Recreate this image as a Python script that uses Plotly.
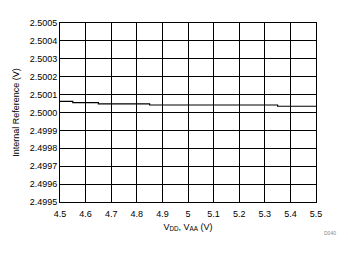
import plotly.graph_objects as go

vdd = [4.5, 4.55, 4.65, 4.85, 5.35, 5.5]
vref = [2.500062, 2.500055, 2.500048, 2.500042, 2.500035, 2.500035]

x_ticks = [4.5, 4.6, 4.7, 4.8, 4.9, 5.0, 5.1, 5.2, 5.3, 5.4, 5.5]
x_labels = ["4.5", "4.6", "4.7", "4.8", "4.9", "5", "5.1", "5.2", "5.3", "5.4", "5.5"]
y_ticks = [2.4995, 2.4996, 2.4997, 2.4998, 2.4999, 2.5000, 2.5001, 2.5002, 2.5003, 2.5004, 2.5005]
y_labels = ["2.4995", "2.4996", "2.4997", "2.4998", "2.4999", "2.5000", "2.5001", "2.5002", "2.5003", "2.5004", "2.5005"]

fig = go.Figure()
fig.add_trace(go.Scatter(x=vdd, y=vref, mode="lines", line=dict(color="black", width=1.2, shape="hv"),
                         showlegend=False, hoverinfo="skip"))

font = dict(family="Liberation Sans, Arial, sans-serif", size=9, color="black")
fig.update_layout(
    width=348, height=254,
    margin=dict(l=60, r=32, t=23, b=52),
    paper_bgcolor="white", plot_bgcolor="white",
    font=font,
    xaxis=dict(range=[4.5, 5.5], tickvals=x_ticks, ticktext=x_labels,
               showgrid=True, gridcolor="black", gridwidth=1,
               showline=True, linecolor="black", linewidth=1, mirror=True,
               zeroline=False, ticks="", ticklen=0, ticklabelstandoff=3,
               title=dict(text="V<sub>DD</sub>, V<sub>AA</sub> (V)", standoff=5, font=font)),
    yaxis=dict(range=[2.4995, 2.5005], tickvals=y_ticks, ticktext=y_labels,
               showgrid=True, gridcolor="black", gridwidth=1,
               showline=True, linecolor="black", linewidth=1, mirror=True,
               zeroline=False, ticks="", ticklen=0,
               title=dict(text="Internal Reference (V)", standoff=8, font=font)),
    annotations=[dict(text="D040", x=(330 - 60) / 256, y=(202 - 233) / 179, xref="paper", yref="paper",
                      showarrow=False, xanchor="center", yanchor="middle",
                      font=dict(family="Liberation Sans, Arial, sans-serif", size=5, color="#888888"))],
)

fig.write_html("out.html")
